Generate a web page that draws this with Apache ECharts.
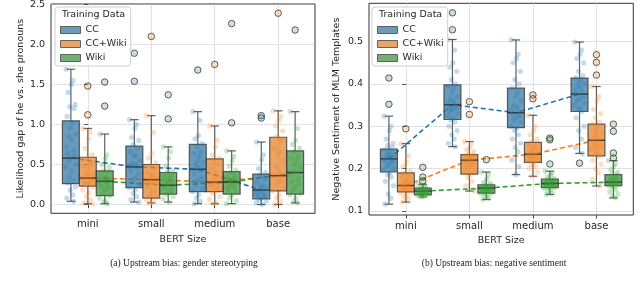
<!DOCTYPE html>
<html><head><meta charset="utf-8">
<script src="https://cdn.jsdelivr.net/npm/echarts@6/dist/echarts.min.js"></script>
<style>html,body{margin:0;padding:0;background:#fff}#c{width:640px;height:285px}</style>
</head><body><div id="c"></div>
<script>
// ---------- data ----------
const CATS = ['mini', 'small', 'medium', 'base'];
const HUES = ['CC', 'CC+Wiki', 'Wiki'];
const GENDER_TICKS = [0, 0.5, 1.0, 1.5, 2.0, 2.5];
const SENT_TICKS = [0.1, 0.2, 0.3, 0.4, 0.5];

// box stats per size: [whiskerLow, Q1, median, Q3, whiskerHigh]
const GENDER_BOX_CC   = [[0.04,0.26,0.58,1.045,1.69],[0.03,0.21,0.47,0.73,1.06],[0.01,0.16,0.44,0.75,1.16],[0.00,0.07,0.18,0.38,0.78]];
const GENDER_BOX_CCW  = [[0.01,0.23,0.33,0.59,0.95],[0.02,0.08,0.31,0.50,1.11],[0.01,0.16,0.28,0.57,0.98],[0.00,0.17,0.36,0.84,1.17]];
const GENDER_BOX_WIKI = [[0.01,0.11,0.29,0.42,0.88],[0.03,0.13,0.24,0.40,0.72],[0.01,0.13,0.28,0.41,0.67],[0.02,0.13,0.40,0.67,1.16]];

const GENDER_OUT_CC   = [[], [1.89,1.54], [1.68], [1.11,1.08]];
const GENDER_OUT_CCW  = [[1.48,1.12], [2.10], [1.75], [2.39]];
const GENDER_OUT_WIKI = [[1.53,1.23], [1.37,1.07], [2.26,1.02], [2.18]];

const GENDER_PTS_CC = [
  [1.69,1.55,1.50,1.40,1.25,1.22,1.20,1.10,1.02,0.95,0.88,0.85,0.80,0.72,0.68,0.64,0.62,0.58,0.55,0.50,0.46,0.42,0.35,0.30,0.27,0.22,0.18,0.12,0.08,0.04],
  [1.06,1.00,0.95,0.84,0.80,0.75,0.70,0.66,0.62,0.60,0.55,0.52,0.50,0.48,0.46,0.42,0.38,0.33,0.28,0.24,0.21,0.18,0.14,0.10,0.06,0.03],
  [1.16,1.05,0.86,0.82,0.76,0.72,0.66,0.64,0.60,0.55,0.53,0.50,0.46,0.44,0.42,0.38,0.34,0.30,0.25,0.20,0.16,0.12,0.08,0.04,0.01],
  [0.78,0.62,0.56,0.45,0.40,0.37,0.32,0.28,0.24,0.22,0.20,0.18,0.16,0.14,0.12,0.11,0.10,0.08,0.06,0.04,0.02,0.00]
];
const GENDER_PTS_CCW = [
  [0.95,0.90,0.82,0.70,0.62,0.57,0.52,0.48,0.45,0.40,0.38,0.36,0.34,0.33,0.31,0.29,0.28,0.26,0.24,0.22,0.18,0.15,0.10,0.06,0.02,0.01],
  [1.11,0.90,0.64,0.58,0.52,0.49,0.45,0.40,0.38,0.36,0.33,0.31,0.29,0.27,0.26,0.22,0.18,0.14,0.10,0.08,0.06,0.04,0.02],
  [0.98,0.80,0.72,0.62,0.58,0.55,0.50,0.45,0.40,0.36,0.34,0.30,0.28,0.26,0.25,0.23,0.20,0.17,0.14,0.10,0.06,0.02,0.01],
  [1.17,1.10,1.05,0.98,0.92,0.85,0.80,0.70,0.66,0.62,0.55,0.48,0.42,0.38,0.36,0.33,0.30,0.28,0.24,0.20,0.17,0.12,0.08,0.04,0.00]
];
const GENDER_PTS_WIKI = [
  [0.88,0.62,0.57,0.50,0.46,0.42,0.40,0.37,0.34,0.33,0.31,0.30,0.29,0.27,0.25,0.22,0.20,0.18,0.14,0.11,0.08,0.05,0.03,0.01],
  [0.72,0.66,0.58,0.48,0.42,0.40,0.37,0.35,0.33,0.30,0.28,0.27,0.25,0.24,0.22,0.20,0.18,0.15,0.13,0.10,0.07,0.03],
  [0.67,0.60,0.55,0.48,0.43,0.40,0.36,0.34,0.32,0.30,0.28,0.26,0.24,0.22,0.21,0.18,0.15,0.12,0.08,0.05,0.01],
  [1.16,0.95,0.80,0.75,0.70,0.66,0.60,0.58,0.55,0.50,0.46,0.42,0.40,0.37,0.32,0.28,0.26,0.22,0.18,0.14,0.12,0.08,0.04,0.02]
];

const SENT_BOX_CC   = [[0.116,0.192,0.223,0.246,0.324],[0.252,0.316,0.351,0.398,0.505],[0.186,0.297,0.332,0.390,0.504],[0.236,0.335,0.376,0.414,0.499]];
const SENT_BOX_CCW  = [[0.121,0.145,0.160,0.190,0.259],[0.147,0.187,0.220,0.233,0.264],[0.182,0.215,0.234,0.262,0.326],[0.159,0.230,0.267,0.305,0.394]];
const SENT_BOX_WIKI = [[0.133,0.138,0.147,0.154,0.163],[0.127,0.142,0.154,0.162,0.192],[0.139,0.155,0.165,0.175,0.194],[0.131,0.160,0.168,0.186,0.219]];

const SENT_OUT_CC   = [[0.414,0.352], [0.568,0.528], [], [0.213]];
const SENT_OUT_CCW  = [[0.294], [0.358,0.328], [0.374,0.365], [0.469,0.451,0.421]];
const SENT_OUT_WIKI = [[0.203,0.180,0.171], [0.221], [0.272,0.268,0.211], [0.305,0.288,0.237,0.225]];

const SENT_PTS_CC = [
  [0.324,0.30,0.29,0.27,0.26,0.255,0.25,0.245,0.24,0.235,0.232,0.23,0.228,0.224,0.22,0.218,0.215,0.21,0.205,0.20,0.195,0.19,0.185,0.18,0.17,0.16,0.14,0.13,0.116],
  [0.505,0.48,0.45,0.44,0.43,0.41,0.40,0.395,0.39,0.38,0.37,0.365,0.36,0.355,0.35,0.345,0.342,0.34,0.335,0.33,0.325,0.32,0.315,0.31,0.30,0.29,0.28,0.27,0.26,0.252],
  [0.504,0.47,0.46,0.45,0.43,0.41,0.40,0.39,0.38,0.37,0.36,0.35,0.345,0.34,0.335,0.33,0.325,0.32,0.315,0.31,0.30,0.295,0.29,0.28,0.27,0.26,0.25,0.24,0.22,0.205,0.186],
  [0.499,0.48,0.47,0.46,0.45,0.43,0.42,0.415,0.41,0.405,0.40,0.395,0.39,0.385,0.38,0.376,0.37,0.365,0.36,0.355,0.35,0.345,0.34,0.335,0.32,0.30,0.29,0.27,0.25,0.236]
];
const SENT_PTS_CCW = [
  [0.259,0.23,0.215,0.205,0.195,0.19,0.185,0.18,0.175,0.17,0.168,0.165,0.162,0.16,0.158,0.155,0.152,0.15,0.148,0.145,0.142,0.138,0.133,0.128,0.121],
  [0.264,0.26,0.25,0.245,0.24,0.235,0.232,0.23,0.228,0.226,0.225,0.222,0.22,0.218,0.215,0.212,0.21,0.205,0.2,0.195,0.19,0.186,0.18,0.17,0.16,0.147],
  [0.326,0.30,0.29,0.28,0.27,0.265,0.26,0.255,0.25,0.248,0.245,0.24,0.237,0.234,0.232,0.23,0.228,0.227,0.224,0.22,0.217,0.214,0.21,0.205,0.2,0.192,0.182],
  [0.394,0.37,0.36,0.34,0.33,0.32,0.31,0.305,0.30,0.29,0.285,0.28,0.275,0.27,0.267,0.265,0.26,0.255,0.252,0.25,0.245,0.24,0.235,0.23,0.22,0.21,0.2,0.19,0.175,0.159]
];
const SENT_PTS_WIKI = [
  [0.163,0.16,0.157,0.155,0.153,0.152,0.151,0.15,0.149,0.148,0.148,0.147,0.146,0.145,0.144,0.143,0.142,0.14,0.139,0.138,0.136,0.134,0.133],
  [0.192,0.185,0.175,0.168,0.165,0.162,0.16,0.158,0.157,0.156,0.155,0.154,0.153,0.151,0.15,0.149,0.148,0.146,0.144,0.142,0.14,0.137,0.134,0.13,0.127],
  [0.194,0.19,0.185,0.18,0.177,0.175,0.173,0.171,0.17,0.169,0.167,0.166,0.165,0.164,0.162,0.161,0.16,0.158,0.156,0.155,0.153,0.15,0.146,0.142,0.139],
  [0.219,0.212,0.205,0.198,0.192,0.188,0.185,0.182,0.18,0.177,0.175,0.174,0.172,0.17,0.168,0.166,0.165,0.163,0.162,0.161,0.16,0.158,0.155,0.15,0.145,0.14,0.135,0.131]
];

// ---------- styling ----------
const PURE = ['31,119,180', '255,127,14', '44,160,44'];
const DESAT = ['50,116,161', '225,129,44', '58,146,58'];
const BOXW = 0.8 / 3;
const JW = 0.085;
const JITTER = [-0.9,0.4,0.1,-0.5,0.8,-0.2,0.6,-0.7,0.3,-0.1,0.95,-0.35,0.2,-0.8,0.5,-0.6,0.7,0,-0.4,0.9,-0.95,0.15,-0.25,0.45,-0.65,0.85,-0.15,0.35,-0.75,0.55,-0.05];
const FONT = 'DejaVu Sans';
const TXT = '#262626';
const EDGE = 'rgba(55,55,55,0.8)';

function boxRender(h) {
  return function (params, api) {
    const x = api.value(0);
    const lo = api.value(1), q1 = api.value(2), md = api.value(3), q3 = api.value(4), hi = api.value(5);
    const hw = api.size([BOXW, 0])[0] / 2;
    const pLo = api.coord([x, lo]), pQ1 = api.coord([x, q1]), pMd = api.coord([x, md]);
    const pQ3 = api.coord([x, q3]), pHi = api.coord([x, hi]);
    const cx = pLo[0];
    const ls = { stroke: EDGE, lineWidth: 1.2, fill: null };
    return {
      type: 'group',
      children: [
        { type: 'line', shape: { x1: cx, y1: pLo[1], x2: cx, y2: pQ1[1] }, style: ls },
        { type: 'line', shape: { x1: cx, y1: pQ3[1], x2: cx, y2: pHi[1] }, style: ls },
        { type: 'line', shape: { x1: cx - hw / 2, y1: pLo[1], x2: cx + hw / 2, y2: pLo[1] }, style: ls },
        { type: 'line', shape: { x1: cx - hw / 2, y1: pHi[1], x2: cx + hw / 2, y2: pHi[1] }, style: ls },
        { type: 'rect', shape: { x: cx - hw, y: pQ3[1], width: 2 * hw, height: pQ1[1] - pQ3[1] },
          style: { fill: 'rgba(' + DESAT[h] + ',0.72)', stroke: EDGE, lineWidth: 1.2 } },
        { type: 'line', shape: { x1: cx - hw, y1: pMd[1], x2: cx + hw, y2: pMd[1] },
          style: { stroke: 'rgba(50,50,50,0.9)', lineWidth: 1.5 } }
      ]
    };
  };
}

function panel(g, boxes, pts, outs) {
  const s = [];
  for (let h = 0; h < 3; h++) {
    const off = (h - 1) * BOXW;
    s.push({
      type: 'line', name: 'median-' + h, xAxisIndex: g, yAxisIndex: g, z: 2, silent: true,
      symbol: 'none', animation: false,
      data: boxes[h].map((b, i) => [i + off, b[2]]),
      lineStyle: { color: 'rgb(' + PURE[h] + ')', width: 1.6, type: [5, 3] }
    });
    s.push({
      type: 'custom', name: HUES[h], xAxisIndex: g, yAxisIndex: g, z: 3, silent: true, animation: false,
      itemStyle: { color: 'rgba(' + DESAT[h] + ',0.72)' },
      encode: { x: 0, y: [1, 2, 3, 4, 5] },
      data: boxes[h].map((b, i) => [i + off].concat(b)),
      renderItem: boxRender(h)
    });
    const pd = [];
    pts[h].forEach((arr, i) => arr.forEach((v, k) => pd.push([i + off + JITTER[k % JITTER.length] * JW, v])));
    s.push({
      type: 'scatter', name: 'pts-' + h, xAxisIndex: g, yAxisIndex: g, z: 4, silent: true, animation: false,
      symbolSize: 5.2, data: pd,
      itemStyle: { color: 'rgba(' + PURE[h] + ',0.33)' }
    });
    const od = [];
    outs[h].forEach((arr, i) => arr.forEach(v => od.push([i + off, v])));
    s.push({
      type: 'scatter', name: 'out-' + h, xAxisIndex: g, yAxisIndex: g, z: 5, silent: true, animation: false,
      symbolSize: 6.5, data: od,
      itemStyle: { color: 'rgba(' + PURE[h] + ',0.3)', borderColor: '#3a3a3a', borderWidth: 1 }
    });
  }
  return s;
}

const series = [].concat(
  panel(0, [GENDER_BOX_CC, GENDER_BOX_CCW, GENDER_BOX_WIKI], [GENDER_PTS_CC, GENDER_PTS_CCW, GENDER_PTS_WIKI], [GENDER_OUT_CC, GENDER_OUT_CCW, GENDER_OUT_WIKI]),
  panel(1, [SENT_BOX_CC, SENT_BOX_CCW, SENT_BOX_WIKI], [SENT_PTS_CC, SENT_PTS_CCW, SENT_PTS_WIKI], [SENT_OUT_CC, SENT_OUT_CCW, SENT_OUT_WIKI])
);

function xAxis(g) {
  return {
    type: 'value', gridIndex: g, min: -0.58, max: 3.58,
    name: 'BERT Size', nameLocation: 'middle', nameGap: 19,
    nameTextStyle: { fontFamily: FONT, fontSize: 9.5, color: TXT },
    axisLine: { show: false },
    axisTick: { show: true, length: 3.5, inside: false, customValues: [0, 1, 2, 3], lineStyle: { color: '#333', width: 0.9 } },
    axisLabel: { customValues: [0, 1, 2, 3], formatter: v => CATS[Math.round(v)], margin: 6,
      fontFamily: FONT, fontSize: 10, color: TXT },
    splitLine: { show: true, lineStyle: { type: 'dotted', color: '#b8b8b8', width: 0.8 } }
  };
}
function yAxis(g, min, max, ticks, name, gap, dec) {
  return {
    type: 'value', gridIndex: g, min: min, max: max,
    name: name, nameLocation: 'middle', nameGap: gap,
    nameTextStyle: { fontFamily: FONT, fontSize: 9.5, color: TXT },
    axisLine: { show: false },
    axisTick: { show: true, length: 3.5, customValues: ticks, lineStyle: { color: '#333', width: 0.9 } },
    axisLabel: { customValues: ticks, formatter: v => v.toFixed(dec), margin: 6,
      fontFamily: FONT, fontSize: 9.5, color: TXT },
    splitLine: { show: true, lineStyle: { type: 'dotted', color: '#b8b8b8', width: 0.8 } }
  };
}

function legendFor(left) {
  return {
    left: left, top: 7, orient: 'vertical', padding: [17, 4, 2, 5],
    itemWidth: 20, itemHeight: 7, itemGap: 2, selectedMode: false,
    backgroundColor: 'rgba(255,255,255,0.85)', borderColor: '#cfcfcf', borderWidth: 1, borderRadius: 3,
    textStyle: { fontFamily: FONT, fontSize: 9.5, color: TXT, lineHeight: 12 },
    z: 10,
    data: HUES.map((n, h) => ({ name: n, icon: 'rect',
      itemStyle: { color: 'rgba(' + DESAT[h] + ',0.72)', borderColor: 'rgba(70,70,70,0.8)', borderWidth: 1 } }))
  };
}

const chart = echarts.init(document.getElementById('c'), null, { renderer: 'canvas' });
chart.setOption({
  animation: false,
  backgroundColor: '#fff',
  grid: [
    { left: 51, right: 325, top: 4, bottom: 71.7, show: true, borderColor: '#333', borderWidth: 1, backgroundColor: 'transparent', outerBoundsMode: 'none' },
    { left: 369, right: 6.7, top: 3.3, bottom: 70, show: true, borderColor: '#333', borderWidth: 1, backgroundColor: 'transparent', outerBoundsMode: 'none' }
  ],
  xAxis: [xAxis(0), xAxis(1)],
  yAxis: [
    yAxis(0, -0.11, 2.505, GENDER_TICKS, 'Likelihood gap of he vs. she pronouns', 24, 1),
    yAxis(1, 0.0905, 0.5905, SENT_TICKS, 'Negative Sentiment of MLM Templates', 27, 1)
  ],
  legend: [legendFor(55), legendFor(372)],
  graphic: [
    { type: 'text', left: 62, top: 10, z: 100, style: { text: 'Training Data', font: '9.5px "DejaVu Sans"', fill: TXT } },
    { type: 'text', left: 379, top: 10, z: 100, style: { text: 'Training Data', font: '9.5px "DejaVu Sans"', fill: TXT } },
    { type: 'text', x: 184, y: 263, z: 100, style: { text: '(a) Upstream bias: gender stereotyping', font: '9.5px "Liberation Serif"', fill: '#222', align: 'center', verticalAlign: 'middle' } },
    { type: 'text', x: 494, y: 263, z: 100, style: { text: '(b) Upstream bias: negative sentiment', font: '9.5px "Liberation Serif"', fill: '#222', align: 'center', verticalAlign: 'middle' } }
  ],
  series: series
});
</script></body></html>
